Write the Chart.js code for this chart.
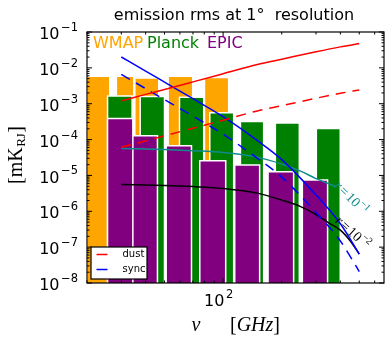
<!DOCTYPE html>
<html>
<head>
<meta charset="utf-8">
<script src="https://cdn.jsdelivr.net/npm/chart.js@4"></script>
<style>html,body{margin:0;padding:0;background:#fff}</style>
</head>
<body>
<canvas id="chart" width="385" height="340"></canvas>
<script>
// band edges in GHz and noise rms in mK_RJ
const wmapLo  = [20, 28.3, 35.2, 52.2, 80.2];
const wmapHi  = [26.2, 34.8, 46.7, 69.8, 106.8];
const wmapRms = [5.8e-3, 5.8e-3, 5.2e-3, 5.8e-3, 5.4e-3];

const planckLo  = [25.5, 37.5, 59.7, 85.4, 122.7, 185.4, 301];
const planckHi  = [34.1, 50.0, 79.5, 113.3, 161.5, 246.2, 399.5];
const planckRms = [1.65e-3, 1.59e-3, 1.52e-3, 5.6e-4, 3.2e-4, 2.9e-4, 2.04e-4];

const epicLo  = [25.5, 33.9, 51.0, 75.9, 114.7, 170.1, 255.1];
const epicHi  = [34.4, 46.0, 68.8, 103.1, 154.0, 230.2, 343.9];
const epicRms = [3.87e-4, 1.27e-4, 6.7e-5, 2.55e-5, 1.94e-5, 1.26e-5, 7.4e-6];

// foregrounds
const nu      = [30, 40, 50, 70, 100, 150, 200, 300, 400, 500];
const dust    = [1.20e-3, 1.82e-3, 2.50e-3, 4.07e-3, 6.85e-3, 1.24e-2, 1.74e-2, 2.81e-2, 3.85e-2, 4.75e-2];
const dustLow = [6.07e-5, 9.2e-5, 1.27e-4, 2.07e-4, 3.47e-4, 6.3e-4, 8.8e-4, 1.42e-3, 1.95e-3, 2.41e-3];
const sync    = [2.01e-2, 8.1e-3, 4.0e-3, 1.38e-3, 4.34e-4, 9.3e-5, 2.75e-5, 2.83e-6, 4.5e-7, 6.4e-8];
const syncLow = [6.55e-3, 2.64e-3, 1.30e-3, 4.5e-4, 1.41e-4, 3.0e-5, 8.97e-6, 9.2e-7, 1.48e-7, 2.09e-8];

// B-mode signal
const nuR1 = [30, 50, 70, 100, 150, 200, 250, 300, 380];
const r1   = [5.65e-5, 5.30e-5, 4.91e-5, 4.38e-5, 3.24e-5, 2.07e-5, 1.32e-5, 8.15e-6, 4.88e-6];
const nuR2 = [30, 50, 70, 100, 150, 200, 250, 300, 350, 400, 450, 500];
const r2   = [5.61e-6, 5.26e-6, 4.88e-6, 4.34e-6, 3.21e-6, 2.05e-6, 1.35e-6, 8.1e-7, 4.69e-7, 2.99e-7, 1.48e-7, 6.4e-8];

const xTicks = [100];
const yTicks = [1e-8, 1e-7, 1e-6, 1e-5, 1e-4, 1e-3, 1e-2, 1e-1];

const ORANGE = '#ffa500', GREEN = '#008000', PURPLE = '#800080', TEAL = '#0f8b8d';
const SANS = '"DejaVu Sans"', SERIF = '"Liberation Serif"';

function bars(lo, hi, rms, color, order) {
  return rms.map((v, i) => ({
    data: [{x: lo[i], y: 1e-10}, {x: lo[i], y: v}, {x: hi[i], y: v}, {x: hi[i], y: 1e-10}],
    fill: 'start', backgroundColor: color, borderColor: '#fff', borderWidth: 1.5,
    pointRadius: 0, tension: 0, order: order
  }));
}
function curve(xs, ys, color, dash, label) {
  return {
    label: label, data: xs.map((x, i) => ({x: x, y: ys[i]})),
    borderColor: color, borderWidth: 1.5, borderDash: dash || [], fill: false,
    pointRadius: 0, cubicInterpolationMode: 'monotone', order: 0
  };
}

const datasets = [
  curve(nu, dust, '#ff0000', null, 'dust'),
  curve(nu, dustLow, '#ff0000', [10, 7]),
  curve(nu, sync, '#0000ff', null, 'sync'),
  curve(nu, syncLow, '#0000ff', [10, 7]),
  curve(nuR1, r1, TEAL),
  curve(nuR2, r2, '#000000'),
  ...bars(epicLo, epicHi, epicRms, PURPLE, 1),
  ...bars(planckLo, planckHi, planckRms, GREEN, 2),
  ...bars(wmapLo, wmapHi, wmapRms, ORANGE, 3)
];

// text made of pieces: [text, font, dy, dxBefore]
function rich(ctx, parts, x, y, align) {
  let w = 0;
  const ws = parts.map(p => { ctx.font = p[1]; const m = ctx.measureText(p[0]).width + (p[3] || 0); w += m; return m; });
  let cx = align === 'center' ? x - w / 2 : align === 'right' ? x - w : x;
  ctx.textAlign = 'left';
  ctx.textBaseline = 'middle';
  parts.forEach((p, i) => {
    ctx.font = p[1];
    ctx.fillText(p[0], cx + (p[3] || 0), y + (p[2] || 0));
    cx += ws[i];
  });
}

const deco = {
  id: 'deco',
  afterDraw(chart) {
    const {ctx, chartArea: a, scales: {x, y}} = chart;
    ctx.save();
    ctx.strokeStyle = '#000';
    ctx.fillStyle = '#000';
    ctx.lineWidth = 1.2;
    ctx.strokeRect(a.left, a.top, a.right - a.left, a.bottom - a.top);

    // ticks, pointing inwards on all four sides
    ctx.lineWidth = 1;
    ctx.beginPath();
    for (let d = 10; d <= 100; d *= 10) {
      for (let k = 1; k <= 9; k++) {
        const v = k * d;
        if (v < 20 || v > 670) continue;
        const px = x.getPixelForValue(v), len = k === 1 ? 5 : 2.5;
        ctx.moveTo(px, a.bottom); ctx.lineTo(px, a.bottom - len);
        ctx.moveTo(px, a.top); ctx.lineTo(px, a.top + len);
      }
    }
    for (let e = -8; e <= -1; e++) {
      for (let k = 1; k <= 9; k++) {
        const v = k * Math.pow(10, e);
        if (v > 0.1 * 1.0001) continue;
        const py = y.getPixelForValue(v), len = k === 1 ? 5 : 2.5;
        ctx.moveTo(a.left, py); ctx.lineTo(a.left + len, py);
        ctx.moveTo(a.right, py); ctx.lineTo(a.right - len, py);
      }
    }
    ctx.stroke();

    // tick labels
    yTicks.forEach(v => {
      const e = Math.round(Math.log10(v));
      rich(ctx, [['10', '16px ' + SANS, 3], ['\u2212' + Math.abs(e), '11.5px ' + SANS, -4, 1.5]], 78, y.getPixelForValue(v), 'right');
    });
    xTicks.forEach(v => {
      const e = Math.round(Math.log10(v));
      rich(ctx, [['10', '16px ' + SANS, 0], [String(e), '11.5px ' + SANS, -6.5, 1.5]], x.getPixelForValue(v) - 4.5, 302, 'center');
    });

    // title
    ctx.textAlign = 'center';
    ctx.textBaseline = 'middle';
    ctx.font = '16px ' + SANS;
    ctx.fillText('emission rms at 1\u00b0  resolution', 234, 16);

    // axis labels
    rich(ctx, [['\u03bd', 'italic 20px ' + SERIF, 0]], 196, 326, 'center');
    rich(ctx, [['[', '20px ' + SERIF, 0], ['GHz', 'italic 20px ' + SERIF, 0], [']', '20px ' + SERIF, 0]], 230, 326, 'left');
    ctx.save();
    ctx.translate(17, 155);
    ctx.rotate(-Math.PI / 2);
    rich(ctx, [['[mK', '20px ' + SERIF, 0], ['RJ', '13px ' + SERIF, 5, 0.5], [']', '20px ' + SERIF, 0, 0.5]], 0, 0, 'center');
    ctx.restore();

    // experiment names
    ctx.font = '16px ' + SANS;
    ctx.textAlign = 'left';
    ctx.fillStyle = ORANGE; ctx.fillText('WMAP', 93, 44);
    ctx.fillStyle = GREEN; ctx.fillText('Planck', 147, 44);
    ctx.fillStyle = PURPLE; ctx.fillText('EPIC', 207, 44);

    // r labels along the curves
    const rl = (txt, col, px, py, ang) => {
      ctx.save();
      ctx.translate(px, py);
      ctx.rotate(ang);
      ctx.fillStyle = col;
      rich(ctx, [['r', 'italic 14px ' + SERIF, 0], ['=', '14px ' + SERIF, 0, 1.5], ['10', '14px ' + SERIF, 0, 1.5], [txt, '10px ' + SERIF, -5, 0.5]], 0, 0, 'left');
      ctx.restore();
    };
    rl('\u22121', TEAL, 336, 184, 0.78);
    rl('\u22122', '#000', 337, 219, 0.74);

    // legend
    ctx.fillStyle = '#fff';
    ctx.fillRect(91, 247, 56, 32);
    ctx.lineWidth = 1.2;
    ctx.strokeStyle = '#000';
    ctx.strokeRect(91, 247, 56, 32);
    [['dust', '#ff0000', 254.5], ['sync', '#0000ff', 269.5]].forEach(it => {
      ctx.strokeStyle = it[1];
      ctx.lineWidth = 1.5;
      ctx.beginPath(); ctx.moveTo(96.5, it[2]); ctx.lineTo(107.5, it[2]); ctx.stroke();
      ctx.fillStyle = '#000';
      ctx.font = '10px ' + SANS;
      ctx.textAlign = 'left';
      ctx.textBaseline = 'middle';
      ctx.fillText(it[0], 122.5, it[2]);
    });
    ctx.restore();
  }
};

new Chart(document.getElementById('chart'), {
  type: 'line',
  data: {datasets: datasets},
  options: {
    responsive: false,
    animation: false,
    devicePixelRatio: 1,
    layout: {padding: {top: 32, right: 1, left: 0, bottom: 0}},
    plugins: {legend: {display: false}, tooltip: {enabled: false}},
    scales: {
      x: {
        type: 'logarithmic', min: 20, max: 670,
        ticks: {display: false}, grid: {display: false}, border: {display: false},
        afterFit(s) { s.height = 57; }
      },
      y: {
        type: 'logarithmic', min: 1e-8, max: 1e-1,
        ticks: {display: false}, grid: {display: false}, border: {display: false},
        afterFit(s) { s.width = 87; }
      }
    }
  },
  plugins: [deco]
});
</script>
</body>
</html>
